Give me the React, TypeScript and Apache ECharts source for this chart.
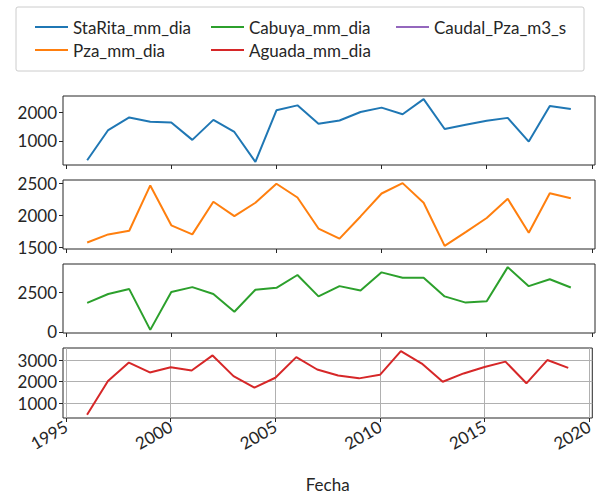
import React, { useEffect, useRef } from "react";
import * as echarts from "echarts";

const years = [1996, 1997, 1998, 1999, 2000, 2001, 2002, 2003, 2004, 2005, 2006, 2007, 2008, 2009, 2010, 2011, 2012, 2013, 2014, 2015, 2016, 2017, 2018, 2019];
const staRita = [314, 1383, 1826, 1673, 1652, 1035, 1742, 1314, 258, 2080, 2254, 1603, 1721, 2021, 2174, 1941, 2474, 1418, 1568, 1707, 1812, 976, 2230, 2125];
const pza = [1575, 1703, 1760, 2472, 1846, 1703, 2215, 1990, 2200, 2498, 2283, 1795, 1637, 1985, 2345, 2508, 2200, 1523, 1739, 1960, 2262, 1729, 2349, 2272];
const cabuya = [1823, 2381, 2691, 124, 2505, 2815, 2381, 1265, 2647, 2771, 3577, 2232, 2877, 2604, 3745, 3410, 3410, 2232, 1841, 1922, 4073, 2877, 3311, 2790];
const aguada = [473, 2030, 2882, 2427, 2668, 2518, 3213, 2259, 1727, 2182, 3136, 2564, 2291, 2155, 2318, 3409, 2836, 2000, 2382, 2682, 2927, 1927, 3000, 2636];
const caudal: number[] = [];

const xTicks = [1995, 2000, 2005, 2010, 2015, 2020];
const yTicks = [
  [1000, 2000],
  [1500, 2000, 2500],
  [0, 2500],
  [1000, 2000, 3000],
];

const names = ["StaRita_mm_dia", "Pza_mm_dia", "Cabuya_mm_dia", "Aguada_mm_dia", "Caudal_Pza_m3_s"];
const colors = ["#1f77b4", "#ff7f0e", "#2ca02c", "#d62728", "#9467bd"];

const FONT = "Lato";
const FS = 17;
const TXT = "#262626";

function lim(arr: number[]) {
  const mn = Math.min(...arr);
  const mx = Math.max(...arr);
  const r = mx - mn;
  return [mn - 0.05 * r, mx + 0.05 * r];
}

export default function App() {
  const ref = useRef<HTMLDivElement>(null);
  useEffect(() => {
    if (!ref.current) return;
    const chart = echarts.init(ref.current, null, { renderer: "svg" });
    const panels = [staRita, pza, cabuya, aguada];
    const tops = [96, 180, 264, 348];
    const heights = [69, 69, 69, 70];
    const span = years[years.length - 1] - years[0];
    const xr = [years[0] - 0.05 * span, years[years.length - 1] + 0.05 * span];

    const grid = tops.map((t, i) => ({
      left: 63,
      top: t,
      width: 532,
      height: heights[i],
      show: true,
      borderColor: TXT,
      borderWidth: 1,
      backgroundColor: "transparent",
    }));

    const xAxis = tops.map((_, i) => ({
      type: "value",
      gridIndex: i,
      min: xr[0],
      max: xr[1],
      axisLine: { show: false, onZero: false },
      axisTick: { show: true, length: 4, customValues: xTicks, lineStyle: { color: TXT, width: 1 } },
      axisLabel: {
        show: i === 3,
        customValues: xTicks,
        formatter: (v: number) => String(v),
        rotate: 30,
        margin: 7,
        fontFamily: FONT,
        fontSize: FS,
        color: TXT,
      },
      splitLine: { show: i === 3, lineStyle: { color: "#b0b0b0", width: 1 } },
      name: i === 3 ? "Fecha" : "",
      nameLocation: "middle",
      nameGap: 58,
      nameTextStyle: { fontFamily: FONT, fontSize: FS, color: TXT },
    }));

    const yAxis = panels.map((arr, i) => {
      const [mn, mx] = lim(arr);
      return {
        type: "value",
        gridIndex: i,
        min: mn,
        max: mx,
        axisLine: { show: false, onZero: false },
        axisTick: { show: true, length: 4, customValues: yTicks[i], lineStyle: { color: TXT, width: 1 } },
        axisLabel: {
          customValues: yTicks[i],
          formatter: (v: number) => String(v),
          margin: 6,
          fontFamily: FONT,
          fontSize: FS,
          color: TXT,
        },
        splitLine: { show: i === 3, lineStyle: { color: "#b0b0b0", width: 1 } },
      };
    });

    const seriesArrs = [staRita, pza, cabuya, aguada];
    const series: any[] = seriesArrs.map((arr, i) => ({
      name: names[i],
      type: "line",
      xAxisIndex: i,
      yAxisIndex: i,
      data: years.map((y, k) => [y, arr[k]]),
      symbol: "none",
      color: colors[i],
      lineStyle: { width: 2, color: colors[i] },
    }));
    series.push({
      name: names[4],
      type: "line",
      xAxisIndex: 0,
      yAxisIndex: 0,
      data: caudal.map((v, k) => [years[k], v]),
      symbol: "none",
      color: colors[4],
      lineStyle: { width: 2, color: colors[4] },
    });

    const legendBase = {
      orient: "vertical",
      top: 17,
      padding: 0,
      icon: "rect",
      itemWidth: 33,
      itemHeight: 2,
      itemGap: 3,
      selectedMode: false,
      textStyle: { fontFamily: FONT, fontSize: FS, color: TXT, lineHeight: 20 },
    };

    chart.setOption({
      animation: false,
      backgroundColor: "#ffffff",
      graphic: [
        {
          type: "rect",
          shape: { x: 16, y: 7, width: 568, height: 64, r: 2 },
          style: { fill: "#ffffff", stroke: "#cccccc", lineWidth: 1 },
          z: -1,
        },
      ],
      legend: [
        { ...legendBase, left: 35, data: [names[0], names[1]] },
        { ...legendBase, left: 211, data: [names[2], names[3]] },
        { ...legendBase, left: 396, data: [names[4]] },
      ],
      grid,
      xAxis,
      yAxis,
      series,
    });
    return () => chart.dispose();
  }, []);
  return (
    <div
      ref={ref}
      style={{ position: "fixed", left: 0, top: 0, width: 596, height: 496, background: "#fff" }}
    />
  );
}
